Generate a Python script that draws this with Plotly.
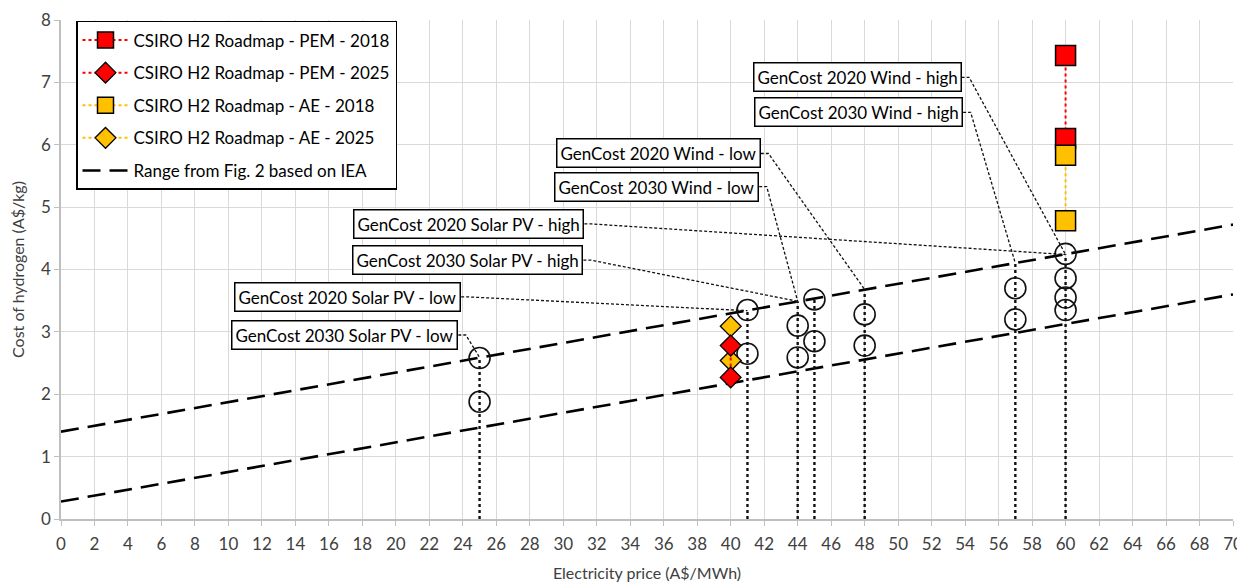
import plotly.graph_objects as go

# ---------------- data ----------------
csiro_x_2018 = [60, 60]
pem_2018 = [7.43, 6.10]
ae_2018 = [5.83, 4.78]
csiro_x_2025 = [40, 40]
pem_2025 = [2.78, 2.27]
ae_2025 = [3.09, 2.54]

gencost_x = [25, 25, 41, 41, 44, 44, 45, 45, 48, 48, 57, 57, 60, 60, 60, 60]
gencost_y = [2.58, 1.88, 3.35, 2.65, 3.10, 2.59, 3.52, 2.85, 3.28, 2.78, 3.70, 3.20, 4.25, 3.86, 3.55, 3.35]

drop_x = [25, 41, 44, 45, 48, 57, 60]
drop_top = [2.59, 3.34, 3.49, 3.53, 3.68, 4.10, 4.24]

iea_x = [0, 70]
iea_high = [1.40, 4.72]
iea_low = [0.28, 3.60]

label_text = [
    "GenCost 2020 Wind - high",
    "GenCost 2030 Wind - high",
    "GenCost 2020 Wind - low",
    "GenCost 2030 Wind - low",
    "GenCost 2020 Solar PV - high",
    "GenCost 2030 Solar PV - high",
    "GenCost 2020 Solar PV - low",
    "GenCost 2030 Solar PV - low",
]
label_x = [53.79, 53.88, 41.80, 41.70, 31.26, 31.20, 23.90, 23.73]
label_y = [7.08, 6.52, 5.86, 5.33, 4.73, 4.15, 3.56, 2.95]
label_target = [6, 5, 4, 2, 6, 2, 1, 0]   # index into drop_x / drop_top

x_ticks = list(range(0, 71, 2))
y_ticks = list(range(0, 9))

FONT = "Lato"
RED = "#FF0000"
ORANGE = "#FFC000"

fig = go.Figure()

# IEA range lines
fig.add_trace(go.Scatter(x=iea_x, y=iea_high, mode="lines",
                         line=dict(color="black", width=2.6, dash="18px,9px"),
                         name="Range from Fig. 2 based on IEA", legendrank=5,
                         legendgroup="g5"))
fig.add_trace(go.Scatter(x=iea_x, y=iea_low, mode="lines",
                         line=dict(color="black", width=2.6, dash="18px,9px"),
                         showlegend=False, hoverinfo="skip"))

# drop lines
dx, dy = [], []
for xv, tv in zip(drop_x, drop_top):
    dx += [xv, xv, None]
    dy += [0, tv, None]
fig.add_trace(go.Scatter(x=dx, y=dy, mode="lines",
                         line=dict(color="#111111", width=2.4, dash="dot"),
                         showlegend=False, hoverinfo="skip"))

# leader lines
lx, ly = [], []
for xv, yv, ti in zip(label_x, label_y, label_target):
    lx += [xv, xv + 0.45, drop_x[ti], None]
    ly += [yv, yv, drop_top[ti], None]
fig.add_trace(go.Scatter(x=lx, y=ly, mode="lines",
                         line=dict(color="#111111", width=1.3, dash="3px,2px"),
                         showlegend=False, hoverinfo="skip"))

# GenCost circles
fig.add_trace(go.Scatter(x=gencost_x, y=gencost_y, mode="markers",
                         marker=dict(symbol="circle-open", size=21,
                                     color="#111111", line=dict(width=1.6)),
                         showlegend=False))

# CSIRO series
fig.add_trace(go.Scatter(x=csiro_x_2025, y=ae_2025, mode="lines+markers",
                         line=dict(color=ORANGE, width=2, dash="dot"),
                         marker=dict(symbol="diamond", size=16, color=ORANGE,
                                     line=dict(color="black", width=1.3)),
                         name="CSIRO H2 Roadmap - AE - 2025", legendrank=4,
                         legendgroup="g4"))
fig.add_trace(go.Scatter(x=csiro_x_2025, y=pem_2025, mode="lines+markers",
                         line=dict(color=RED, width=2, dash="dot"),
                         marker=dict(symbol="diamond", size=16, color=RED,
                                     line=dict(color="black", width=1.3)),
                         name="CSIRO H2 Roadmap - PEM - 2025", legendrank=2,
                         legendgroup="g2"))
fig.add_trace(go.Scatter(x=csiro_x_2018, y=pem_2018, mode="lines+markers",
                         line=dict(color=RED, width=2, dash="dot"),
                         marker=dict(symbol="square", size=20, color=RED,
                                     line=dict(color="black", width=1.5)),
                         name="CSIRO H2 Roadmap - PEM - 2018", legendrank=1,
                         legendgroup="g1"))
fig.add_trace(go.Scatter(x=csiro_x_2018, y=ae_2018, mode="lines+markers",
                         line=dict(color=ORANGE, width=2, dash="dot"),
                         marker=dict(symbol="square", size=20, color=ORANGE,
                                     line=dict(color="black", width=1.5)),
                         name="CSIRO H2 Roadmap - AE - 2018", legendrank=3,
                         legendgroup="g3"))

annotations = []
for t, xv, yv in zip(label_text, label_x, label_y):
    annotations.append(dict(text=t, x=xv, y=yv, xref="x", yref="y",
                            xanchor="right", yanchor="middle", showarrow=False,
                            font=dict(family=FONT, size=17, color="black"),
                            bgcolor="white", bordercolor="black",
                            borderwidth=1.5, borderpad=3))

fig.update_layout(
    width=1237, height=574,
    margin=dict(l=53, r=12, t=12, b=63),
    paper_bgcolor="white", plot_bgcolor="white",
    font=dict(family=FONT, size=17, color="#404040"),
    showlegend=True,
    legend=dict(x=0.0128, y=0.998, xanchor="left", yanchor="top",
                bgcolor="white", bordercolor="black", borderwidth=1.5,
                font=dict(family=FONT, size=17, color="black"),
                itemwidth=46, tracegroupgap=7.5, traceorder="grouped"),
    annotations=annotations,
)
fig.update_xaxes(range=[0, 70], tickvals=x_ticks, showgrid=True,
                 gridcolor="#d9d9d9", gridwidth=1, zeroline=False,
                 showline=True, linecolor="#bfbfbf", linewidth=1.5,
                 ticks="outside", ticklen=5, tickcolor="#bfbfbf",
                 automargin=False, ticklabelstandoff=4,
                 ticklabeloverflow="allow",
                 tickfont=dict(family=FONT, size=17, color="#404040"),
                 title=dict(text="Electricity price (A$/MWh)",
                            font=dict(family=FONT, size=16, color="#404040")))
fig.update_yaxes(range=[0, 8], tickvals=y_ticks, showgrid=True,
                 gridcolor="#d9d9d9", gridwidth=1, zeroline=False,
                 showline=True, linecolor="#bfbfbf", linewidth=1.5,
                 ticks="outside", ticklen=5, tickcolor="#bfbfbf",
                 automargin=False, ticklabeloverflow="allow",
                 tickfont=dict(family=FONT, size=17, color="#404040"),
                 title=dict(text="Cost of hydrogen (A$/kg)",
                            font=dict(family=FONT, size=16, color="#404040")))

fig.write_html("out.html")
